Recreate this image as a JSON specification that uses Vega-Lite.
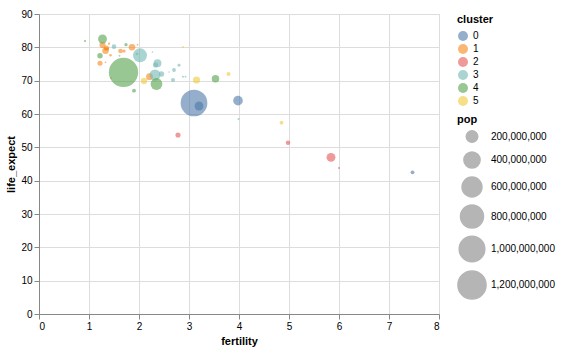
{
  "$schema": "https://vega.github.io/schema/vega-lite/v6.json",
  "width": 400,
  "height": 300,
  "padding": {"left": 5, "top": 9, "right": 5, "bottom": 5},
  "config": {"font": "Liberation Sans"},
  "data": {
    "values": [
      {"country": "Afghanistan", "cluster": 0, "fertility": 7.47, "life_expect": 42.5, "pop": 22000000},
      {"country": "Bangladesh", "cluster": 0, "fertility": 3.2, "life_expect": 62.4, "pop": 120000000},
      {"country": "India", "cluster": 0, "fertility": 3.1, "life_expect": 63.3, "pop": 1080000000},
      {"country": "Pakistan", "cluster": 0, "fertility": 3.98, "life_expect": 64.0, "pop": 140000000},
      {"country": "Italy", "cluster": 1, "fertility": 1.27, "life_expect": 80.7, "pop": 58000000},
      {"country": "Germany", "cluster": 1, "fertility": 1.33, "life_expect": 79.0, "pop": 65000000},
      {"country": "Spain", "cluster": 1, "fertility": 1.35, "life_expect": 79.8, "pop": 40000000},
      {"country": "Greece", "cluster": 1, "fertility": 1.33, "life_expect": 79.5, "pop": 11000000},
      {"country": "Austria", "cluster": 1, "fertility": 1.38, "life_expect": 79.5, "pop": 8000000},
      {"country": "Switzerland", "cluster": 1, "fertility": 1.4, "life_expect": 81.1, "pop": 7000000},
      {"country": "Poland", "cluster": 1, "fertility": 1.22, "life_expect": 75.2, "pop": 38000000},
      {"country": "Croatia", "cluster": 1, "fertility": 1.33, "life_expect": 75.5, "pop": 4500000},
      {"country": "Portugal", "cluster": 1, "fertility": 1.43, "life_expect": 77.6, "pop": 10000000},
      {"country": "Georgia", "cluster": 1, "fertility": 1.44, "life_expect": 70.8, "pop": 4500000},
      {"country": "United Kingdom", "cluster": 1, "fertility": 1.63, "life_expect": 78.9, "pop": 33000000},
      {"country": "Netherlands", "cluster": 1, "fertility": 1.7, "life_expect": 78.9, "pop": 16000000},
      {"country": "France", "cluster": 1, "fertility": 1.86, "life_expect": 80.0, "pop": 65000000},
      {"country": "Norway", "cluster": 1, "fertility": 1.97, "life_expect": 80.8, "pop": 4600000},
      {"country": "Turkey", "cluster": 1, "fertility": 2.21, "life_expect": 71.2, "pop": 70000000},
      {"country": "South Africa", "cluster": 2, "fertility": 2.78, "life_expect": 53.7, "pop": 40000000},
      {"country": "Kenya", "cluster": 2, "fertility": 4.98, "life_expect": 51.4, "pop": 30000000},
      {"country": "Nigeria", "cluster": 2, "fertility": 5.84, "life_expect": 47.0, "pop": 120000000},
      {"country": "Rwanda", "cluster": 2, "fertility": 6.0, "life_expect": 43.8, "pop": 6000000},
      {"country": "United States", "cluster": 3, "fertility": 2.02, "life_expect": 77.6, "pop": 296000000},
      {"country": "Canada", "cluster": 3, "fertility": 1.5, "life_expect": 80.2, "pop": 32000000},
      {"country": "Cuba", "cluster": 3, "fertility": 1.61, "life_expect": 77.5, "pop": 6000000},
      {"country": "Chile", "cluster": 3, "fertility": 1.96, "life_expect": 78.0, "pop": 10000000},
      {"country": "Costa Rica", "cluster": 3, "fertility": 2.27, "life_expect": 78.6, "pop": 4000000},
      {"country": "Mexico", "cluster": 3, "fertility": 2.37, "life_expect": 75.2, "pop": 95000000},
      {"country": "Argentina", "cluster": 3, "fertility": 2.33, "life_expect": 74.7, "pop": 39000000},
      {"country": "Brazil", "cluster": 3, "fertility": 2.32, "life_expect": 71.7, "pop": 186000000},
      {"country": "Colombia", "cluster": 3, "fertility": 2.45, "life_expect": 72.0, "pop": 44000000},
      {"country": "Jamaica", "cluster": 3, "fertility": 2.6, "life_expect": 72.6, "pop": 2700000},
      {"country": "Venezuela", "cluster": 3, "fertility": 2.7, "life_expect": 73.2, "pop": 22000000},
      {"country": "Ecuador", "cluster": 3, "fertility": 2.8, "life_expect": 74.6, "pop": 13000000},
      {"country": "Peru", "cluster": 3, "fertility": 2.68, "life_expect": 70.2, "pop": 25000000},
      {"country": "Dominican Republic", "cluster": 3, "fertility": 2.88, "life_expect": 71.2, "pop": 6000000},
      {"country": "El Salvador", "cluster": 3, "fertility": 2.93, "life_expect": 71.2, "pop": 5000000},
      {"country": "Bolivia", "cluster": 3, "fertility": 3.95, "life_expect": 64.2, "pop": 5000000},
      {"country": "Haiti", "cluster": 3, "fertility": 3.99, "life_expect": 58.5, "pop": 6000000},
      {"country": "China", "cluster": 4, "fertility": 1.69, "life_expect": 72.5, "pop": 1303000000},
      {"country": "Hong Kong", "cluster": 4, "fertility": 0.92, "life_expect": 81.9, "pop": 7000000},
      {"country": "Japan", "cluster": 4, "fertility": 1.27, "life_expect": 82.5, "pop": 120000000},
      {"country": "South Korea", "cluster": 4, "fertility": 1.22, "life_expect": 77.5, "pop": 45000000},
      {"country": "Australia", "cluster": 4, "fertility": 1.74, "life_expect": 80.8, "pop": 16000000},
      {"country": "North Korea", "cluster": 4, "fertility": 1.9, "life_expect": 67.0, "pop": 23000000},
      {"country": "Indonesia", "cluster": 4, "fertility": 2.35, "life_expect": 69.0, "pop": 210000000},
      {"country": "Philippines", "cluster": 4, "fertility": 3.53, "life_expect": 70.6, "pop": 85000000},
      {"country": "Egypt", "cluster": 5, "fertility": 3.15, "life_expect": 70.2, "pop": 77000000},
      {"country": "Iran", "cluster": 5, "fertility": 2.1, "life_expect": 69.9, "pop": 60000000},
      {"country": "Iraq", "cluster": 5, "fertility": 4.85, "life_expect": 57.4, "pop": 22000000},
      {"country": "Israel", "cluster": 5, "fertility": 2.88, "life_expect": 80.1, "pop": 6000000},
      {"country": "Saudi Arabia", "cluster": 5, "fertility": 3.79, "life_expect": 72.0, "pop": 26000000}
    ]
  },
  "mark": {"type": "point", "filled": true, "opacity": 0.6},
  "encoding": {
    "x": {"field": "fertility", "type": "quantitative"},
    "y": {"field": "life_expect", "type": "quantitative"},
    "color": {"field": "cluster", "type": "nominal"},
    "size": {
      "field": "pop",
      "type": "quantitative",
      "scale": {"range": [0, 860]},
      "legend": {"symbolFillColor": "#b5b5b5", "symbolOpacity": 1, "symbolStrokeColor": "#b5b5b5", "symbolStrokeWidth": 1.5}
    }
  }
}
